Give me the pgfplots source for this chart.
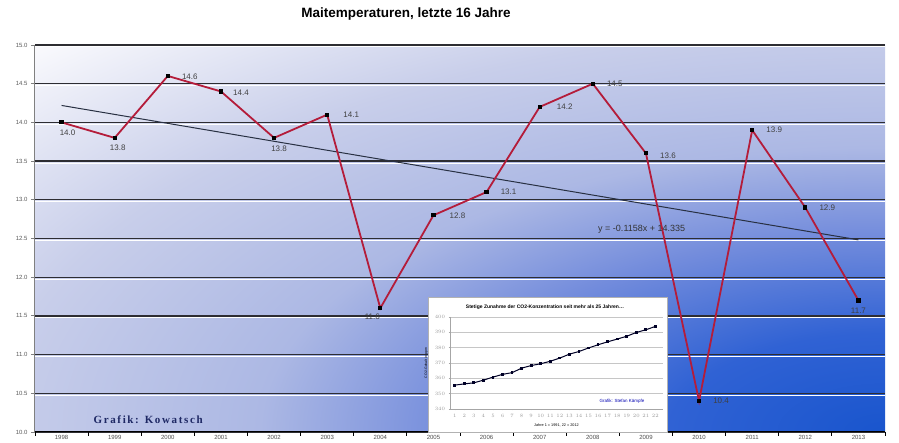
\documentclass[border=0pt]{standalone}
\usepackage{fontspec}
\setmainfont{Liberation Sans}
\newfontfamily\grafikf{Liberation Serif}[LetterSpace=15]
\usepackage{pgfplots}
\usepackage{pgfplotstable}
\pgfplotsset{compat=1.18}
\definecolor{linered}{RGB}{180,28,58}
\definecolor{bg0}{RGB}{25,85,205}
\definecolor{bg1}{RGB}{48,98,212}
\definecolor{bg2}{RGB}{115,140,220}
\definecolor{bg3}{RGB}{172,184,228}
\definecolor{bg4}{RGB}{200,206,234}
\definecolor{bg5}{RGB}{250,250,253}
\definecolor{gridc}{RGB}{45,45,50}
\definecolor{trendc}{RGB}{40,48,66}
\definecolor{navy}{RGB}{30,40,100}
\pgfdeclareradialshading{bgrad}{\pgfpoint{0bp}{0bp}}{color(0bp)=(bg0); color(4.5bp)=(bg1); color(9bp)=(bg2); color(13bp)=(bg3); color(18.5bp)=(bg4); color(25bp)=(bg5); color(50bp)=(bg5)}

\pgfplotstableread{
x y lab dx dy
0 14.0 14.0 6 -10
1 13.8 13.8 3 -10
2 14.6 14.6 22 -1
3 14.4 14.4 20 -1
4 13.8 13.8 5 -11
5 14.1 14.1 24 0
6 11.6 11.6 -8 -9
7 12.8 12.8 24 0
8 13.1 13.1 22 0
9 14.2 14.2 25 0
10 14.5 14.5 22 0
11 13.6 13.6 22 -2
12 10.4 10.4 22 0
13 13.9 13.9 22 0
14 12.9 12.9 22 0
15 11.7 11.7 0 -10
}\maindata

\begin{document}
\begin{tikzpicture}
\path[use as bounding box] (-35pt,-11pt) rectangle (864pt,432pt);
% plot-area background
\begin{scope}
\clip (0pt,0pt) rectangle (850pt,387pt);
\shade[shading=bgrad] (850pt,0pt) ellipse [x radius=1202pt, y radius=547pt];
\end{scope}
\begin{axis}[
  at={(0pt,0pt)}, anchor=south west, scale only axis,
  width=850pt, height=387pt,
  xmin=-0.5, xmax=15.5, ymin=10, ymax=15,
  axis lines=left, axis line style={-},
  x axis line style={black, line width=1pt},
  y axis line style={gray, line width=1pt},
  xtick={0,...,15},
  xticklabels={1998,1999,2000,2001,2002,2003,2004,2005,2006,2007,2008,2009,2010,2011,2012,2013},
  major x tick style={draw=none},
  minor xtick={-0.5,0.5,...,15.5},
  minor x tick style={black, line width=0.8pt},
  minor tick length=4pt,
  ytick={10,10.5,...,15},
  y tick style={gray, line width=0.8pt},
  major tick length=4pt,
  tick align=outside,
  ymajorgrids,
  major grid style={gridc, line width=1.3pt},
  extra y ticks={10.475,10.975,11.475,11.975,12.475,12.975,13.475,13.975,14.475,14.975},
  extra y tick labels={},
  extra y tick style={grid=major, major grid style={white, line width=0.9pt}, major tick length=0pt},
  /pgf/number format/assume math mode=true,
  yticklabel style={font=\fontsize{6}{7}\selectfont, text=gray!70!black,
     /pgf/number format/fixed, /pgf/number format/fixed zerofill, /pgf/number format/precision=1},
  xticklabel style={font=\fontsize{6}{6.5}\selectfont, text=gray!60!black, yshift=4pt},
  clip=false,
]
\addplot[trendc, line width=1pt] coordinates {(0,14.219) (15,12.482)};
\addplot[linered, line width=1.8pt, mark=square*, mark size=1.2pt,
  mark options={fill=black, draw=black},
  nodes near coords, point meta=explicit symbolic,
  visualization depends on={\thisrow{dx}\as\mydx},
  visualization depends on={\thisrow{dy}\as\mydy},
  every node near coord/.append style={anchor=center, xshift=\mydx*1pt, yshift=\mydy*1pt,
     font=\fontsize{8}{9}\selectfont, text=black!75},
] table[x=x, y=y, meta=lab] {\maindata};
\node[font=\fontsize{9}{10}\selectfont, text=black!80] at (axis cs:10.92,12.62) {y = -0.1158x + 14.335};
\node[font=\grafikf\bfseries\fontsize{11}{12}\selectfont, text=navy] at (axis cs:1.63,10.155) {Grafik: Kowatsch};
\end{axis}
\node[font=\bfseries\fontsize{13.5}{16}\selectfont] at (371pt,418pt) {Maitemperaturen, letzte 16 Jahre};
% inset
\fill[white] (393pt,0pt) rectangle (632pt,135pt);
\draw[gray!60, line width=0.5pt] (393pt,0pt) rectangle (632pt,135pt);
\node[font=\bfseries\fontsize{5}{6}\selectfont] at (510pt,125pt) {Stetige Zunahme der CO2-Konzentration seit mehr als 25 Jahren\ldots};
\begin{axis}[at={(415pt,23pt)}, anchor=south west, scale only axis, width=213pt, height=92pt,
 xmin=0.5, xmax=22.8, ymin=340, ymax=400,
 xtick={1,...,22}, ytick={340,350,...,400},
 ymajorgrids, major grid style={gray!45, line width=0.4pt},
 axis lines=left, axis line style={-, gray!70, line width=0.5pt},
 tick style={gray!70, line width=0.4pt}, major tick length=1.5pt, tick align=outside,
 tick label style={font=\fontsize{3.5}{4}\selectfont, text=gray!80},
 xlabel={Jahre 1 = 1991, 22 = 2012}, ylabel={CO2-Gehalt in ppm},
 xlabel style={font=\fontsize{3.8}{4}\selectfont},
 ylabel style={font=\fontsize{3.5}{4}\selectfont},
 clip=false]
\addplot[black!85!blue, line width=1pt, mark=square*, mark size=0.9pt] coordinates {
(1,355.57) (2,356.38) (3,357.07) (4,358.82) (5,360.80) (6,362.59) (7,363.71) (8,366.65)
(9,368.33) (10,369.52) (11,371.13) (12,373.22) (13,375.77) (14,377.49) (15,379.80)
(16,381.90) (17,383.79) (18,385.60) (19,387.43) (20,389.90) (21,391.65) (22,393.85)};
\node[font=\fontsize{4.5}{5}\selectfont, text=blue!70!black] at (axis cs:18.5,345.2) {Grafik: Stefan Kämpfe};
\end{axis}
\end{tikzpicture}
\end{document}
